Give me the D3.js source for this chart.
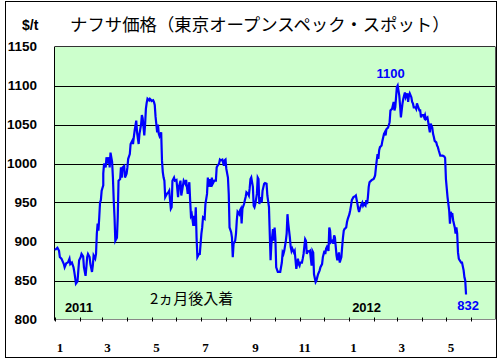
<!DOCTYPE html>
<html><head><meta charset="utf-8">
<script src="https://cdn.jsdelivr.net/npm/d3@7"></script>
<style>html,body{margin:0;padding:0;background:#fff;}svg{display:block;}</style>
</head><body>
<script>
// Days since 2011-01-01 and naphtha price ($/t)
const days = [0,3,5,6,8,11,12,14,16,18,19,21,23,24,25,26,28,29,30,32,33,35,36,38,39,40,41,43,44,46,47,48,50,51,52,53,54,55,56,57,58,60,60,61,63,64,65,67,68,69,71,72,73,74,75,77,78,79,81,82,83,84,86,87,89,90,91,93,94,96,97,98,99,101,102,104,105,107,108,109,111,112,113,114,115,117,118,119,120,122,123,124,125,127,128,129,130,132,133,134,135,136,137,139,141,142,144,145,146,148,149,151,153,154,156,157,158,160,162,163,165,167,168,169,170,172,173,174,175,176,177,179,180,182,183,184,186,187,189,190,191,192,194,195,196,198,200,201,202,204,205,206,208,210,211,212,213,215,216,217,219,220,221,222,224,225,226,227,229,230,231,232,233,235,236,237,238,240,241,242,243,244,246,247,248,249,251,252,253,254,256,257,258,260,261,263,264,266,267,268,269,271,272,273,274,275,277,278,280,282,283,284,285,287,288,289,290,292,293,294,295,297,298,299,300,302,303,304,305,307,308,309,311,312,313,314,316,317,319,320,321,322,324,325,326,327,329,330,332,333,335,336,337,338,340,341,342,343,345,346,347,348,350,351,353,354,356,357,358,359,360,362,363,364,366,367,368,369,371,373,374,376,377,378,379,381,382,383,384,386,387,388,389,390,391,393,394,396,397,398,399,400,401,402,403,404,406,407,409,410,411,412,414,415,416,417,419,421,422,423,424,425,426,428,429,430,432,433,434,435,436,438,439,440,441,443,444,445,446,448,449,450,451,453,454,455,456,458,459,460,461,463,464,465,466,467,469,470,471,472,474,475,476,477,479,480,482,484,485,486,488,490,491,492,493,494,495,497,498,499,500,501,502,503,505,506,508,509,510,511];
const prices = [889,892,888,880,878,871,867,872,873,878,871,873,867,861,854,846,849,863,876,880,884,881,867,856,867,880,884,880,871,861,869,882,878,884,910,923,914,931,950,953,965,972,987,1000,995,1008,1000,1008,995,1014,1002,982,953,931,901,905,931,978,980,995,982,995,997,982,987,995,1006,1012,1025,1029,1025,1034,1042,1055,1040,1025,1038,1050,1062,1058,1036,1050,1070,1078,1083,1081,1083,1082,1080,1081,1079,1075,1060,1040,1050,1038,1035,1040,1004,989,982,978,957,961,963,965,942,944,978,982,978,979,957,970,978,959,965,978,974,979,961,976,953,933,935,920,933,920,944,905,880,884,884,910,918,931,929,948,961,982,970,980,970,982,974,978,978,995,997,1000,1005,1004,1005,997,1004,1005,993,982,961,918,912,905,880,897,901,910,927,938,935,940,942,923,942,948,953,957,963,961,959,968,980,982,970,946,944,948,961,982,980,948,957,950,965,974,975,974,959,944,910,876,897,916,901,918,903,867,861,861,861,873,886,884,888,901,910,935,923,905,893,888,891,886,888,876,865,878,871,869,873,873,878,884,903,901,884,888,887,888,869,888,886,858,848,850,854,858,863,867,871,880,888,884,891,893,888,918,914,899,901,897,908,905,882,876,886,873,880,893,905,914,916,918,925,929,935,940,946,953,957,958,959,948,942,938,942,948,950,946,948,946,953,948,957,970,976,978,979,980,982,985,995,1004,1012,1006,1017,1021,1023,1029,1038,1040,1036,1044,1046,1049,1053,1068,1070,1079,1068,1072,1085,1098,1100,1087,1074,1059,1077,1083,1087,1091,1085,1090,1079,1087,1090,1085,1079,1077,1072,1072,1070,1077,1074,1068,1068,1059,1062,1062,1059,1062,1057,1059,1053,1046,1040,1051,1046,1038,1034,1029,1027,1023,1021,1017,1010,1010,1010,1009,1007,980,957,940,923,938,935,935,927,918,910,918,910,886,878,876,873,873,863,854,850,832];
const yTicks = [800,850,900,950,1000,1050,1100,1150];
const gridValues = [850,900,950,1000,1050,1100];
const monthLabels = ["1","3","5","7","9","11","1","3","5"];
const yearLabels = ["2011","2012"];
const titleText = "ナフサ価格（東京オープンスペック・スポット）";
const unitText = "$/t";
const noteText = "2ヵ月後入着";
const peakLabel = "1100";
const lastLabel = "832";

const W = 502, H = 364;
const base = new Date(2011,0,1);
const data = days.map((d,i)=>({date:d3.timeDay.offset(base,d), v:prices[i]}));

const svg = d3.select("body").append("svg").attr("width",W).attr("height",H);
svg.append("rect").attr("x",5.5).attr("y",1.5).attr("width",491).attr("height",356)
  .attr("fill","#fff").attr("stroke","#000");

const L=55, R=495, T=46.5, B=319.5;
const x = d3.scaleTime().domain([new Date(2011,0,1), new Date(2012,6,1)]).range([L,R]);
const y = d3.scaleLinear().domain([800,1150]).range([B,T]);

svg.append("rect").attr("x",L).attr("y",T).attr("width",R-L).attr("height",B-T).attr("fill","#CCFFCC");

svg.selectAll(".grid").data(gridValues).join("line")
  .attr("x1",L).attr("x2",R).attr("y1",d=>Math.round(y(d))+0.5).attr("y2",d=>Math.round(y(d))+0.5)
  .attr("stroke","#000").attr("stroke-width",1);

// borders
svg.append("line").attr("x1",L).attr("x2",R).attr("y1",T).attr("y2",T).attr("stroke","#333");
svg.append("line").attr("x1",R+0.5).attr("x2",R+0.5).attr("y1",T).attr("y2",B).attr("stroke","#555");

// y labels
svg.selectAll(".yl").data(yTicks).join("text")
  .attr("x",37).attr("y",d=>y(d)).attr("dy","0.36em").attr("text-anchor","end")
  .attr("font-family","Liberation Sans, Arial, sans-serif").attr("font-weight","bold").attr("font-size",13.5)
  .text(d=>d);

// left axis
svg.append("line").attr("x1",L-0.5).attr("x2",L-0.5).attr("y1",T).attr("y2",B+1).attr("stroke","#000");
// bottom axis
svg.append("line").attr("x1",L).attr("x2",R).attr("y1",B).attr("y2",B).attr("stroke","#888");
const months = x.ticks(d3.timeMonth.every(1)).filter(d=>d < new Date(2012,6,1));
svg.selectAll(".tk").data(months).join("line")
  .attr("x1",d=>Math.round(x(d))+0.5).attr("x2",d=>Math.round(x(d))+0.5)
  .attr("y1",B-2).attr("y2",B+2).attr("stroke","#000");
const odd = months.filter((d,i)=>i%2===0);
svg.selectAll(".xl").data(odd).join("text")
  .attr("x",d=>x(d)+5).attr("y",347).attr("dy","0.36em").attr("text-anchor","middle")
  .attr("font-family","Liberation Serif, Times New Roman, serif").attr("font-weight","bold").attr("font-size",13)
  .text((d,i)=>monthLabels[i]);

// line
svg.append("path").datum(data)
  .attr("d",d3.line().x(d=>x(d.date)).y(d=>y(d.v)))
  .attr("fill","none").attr("stroke","#0000FF").attr("stroke-width",2.2);

// annotations
const txt = (t,xx,yy,opt)=>svg.append("text").attr("x",xx).attr("y",yy).attr("dy","0.36em")
  .attr("text-anchor",opt.anchor||"middle").attr("font-family",opt.family||"Liberation Sans, Arial, sans-serif")
  .attr("font-weight",opt.weight||"bold").attr("font-size",opt.size||13).attr("fill",opt.fill||"#000").text(t);
txt(yearLabels[0], x(new Date(2011,0,1))+24, 307, {});
txt(yearLabels[1], x(new Date(2012,0,1))+18, 307, {});
txt(noteText, 150, 299, {anchor:"start", family:"Noto Sans CJK JP", size:15, weight:"normal"});
const peak = data.reduce((a,b)=>b.v>a.v?b:a);
txt(peakLabel, x(peak.date)-7, 73, {fill:"#0000FF"});
const last = data[data.length-1];
txt(lastLabel, x(last.date)+2, 305, {fill:"#0000FF"});
txt(unitText, 22, 25, {anchor:"start", size:14});
svg.append("text").attr("x",70).attr("y",25).attr("dy","0.36em")
  .attr("font-family","Noto Sans CJK JP").attr("font-size",17.4).attr("fill","#000").text(titleText);
</script>
</body></html>
